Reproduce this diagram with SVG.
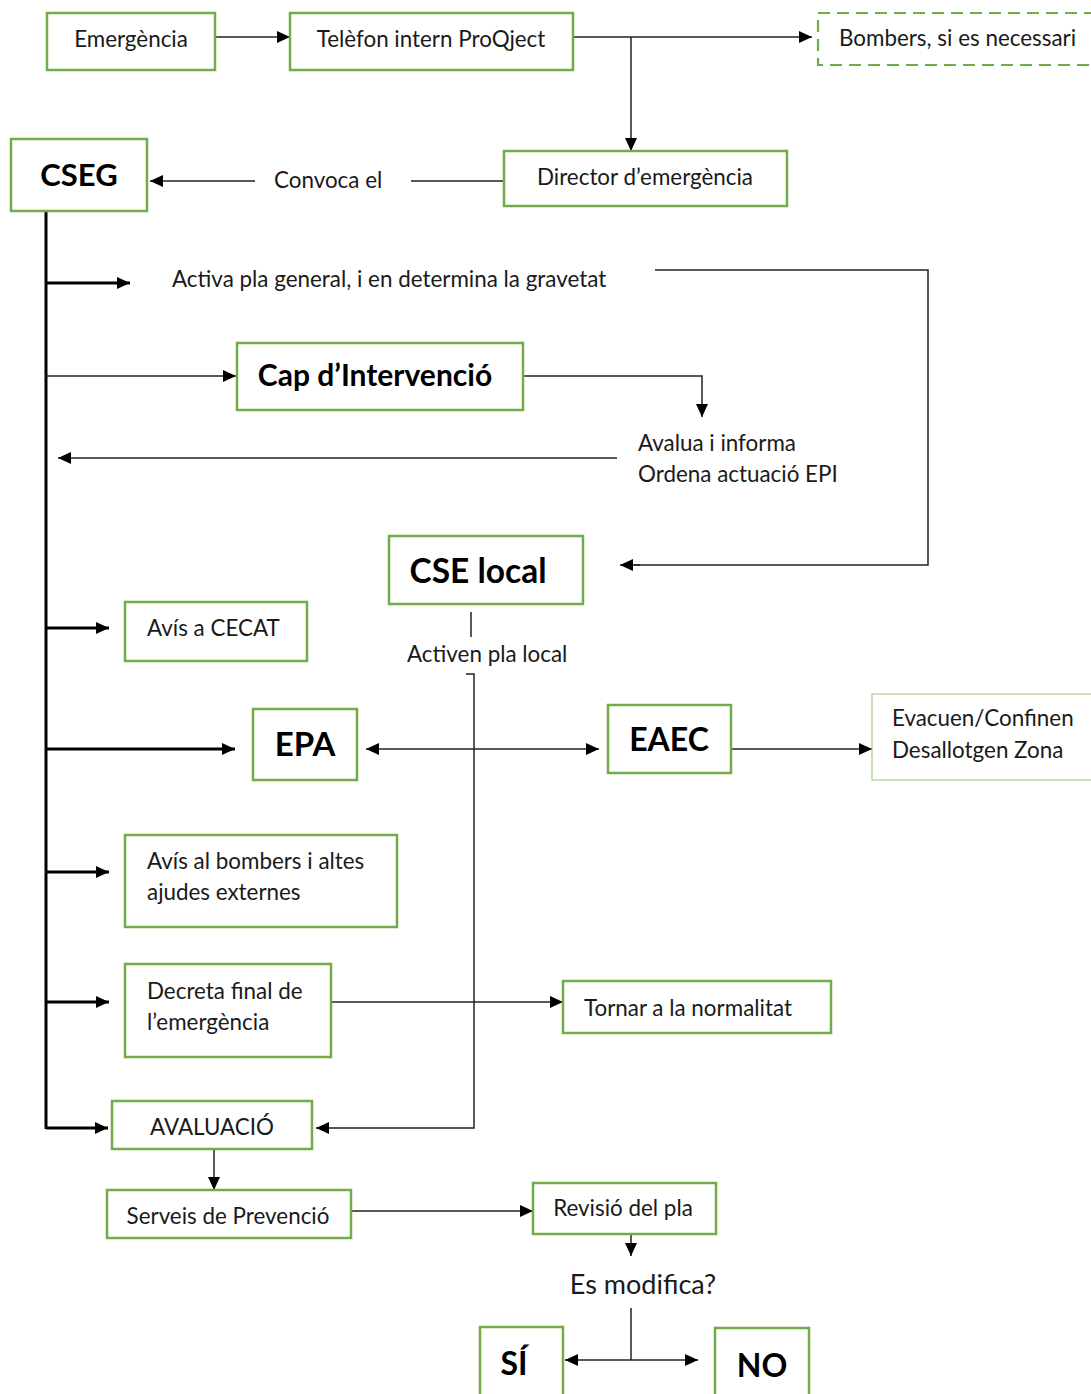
<svg xmlns="http://www.w3.org/2000/svg" width="1091" height="1394" viewBox="0 0 1091 1394">
  <style>
    .box { fill: #ffffff; stroke: #70ad47; stroke-width: 2.5; }
    .thin { fill: #ffffff; stroke: #a9d18e; stroke-width: 1.2; }
    .dash { fill: #ffffff; stroke: #70ad47; stroke-width: 2.2; stroke-dasharray: 12 7; }
    .t { font-family: Lato, "Liberation Sans", sans-serif; font-size: 22.4px; fill: #1a1a1a; }
    .b { font-family: Lato, "Liberation Sans", sans-serif; font-weight: bold; fill: #000000; }
    .c { fill: none; stroke: #222222; stroke-width: 1.5; }
    .k { fill: none; stroke: #000000; stroke-width: 3; }
    .a { marker-end: url(#ah); }
    .a2 { marker-start: url(#ah); marker-end: url(#ah); }
  </style>
  <defs>
    <marker id="ah" markerUnits="userSpaceOnUse" markerWidth="14" markerHeight="14" viewBox="0 0 14 14" refX="13" refY="7" orient="auto-start-reverse">
      <path d="M0,1 L13,7 L0,13 z" fill="#000000"/>
    </marker>
  </defs>
  <rect width="1091" height="1394" fill="#ffffff"/>

  <!-- connectors -->
  <g id="connectors">
    <line class="c a" x1="215" y1="37" x2="290" y2="37"/>
    <line class="c a" x1="573" y1="37" x2="812" y2="37"/>
    <line class="c a" x1="631" y1="37" x2="631" y2="151"/>
    <line class="c" x1="504" y1="181" x2="411" y2="181"/>
    <line class="c a" x1="255" y1="181" x2="150" y2="181"/>
    <!-- CSEG spine -->
    <line class="k" x1="46" y1="211" x2="46" y2="1129"/>
    <line class="k a" x1="46" y1="283" x2="130" y2="283"/>
    <polyline class="c" points="655,270 928,270 928,565 634,565"/>
    <line class="c a" x1="640" y1="565" x2="620" y2="565"/>
    <line class="c a" x1="46" y1="376" x2="236" y2="376"/>
    <polyline class="c a" points="523,376 702,376 702,417"/>
    <line class="c a" x1="617" y1="458" x2="58" y2="458"/>
    <line class="k a" x1="46" y1="628" x2="109" y2="628"/>
    <line class="k a" x1="46" y1="749" x2="235" y2="749"/>
    <line class="c a2" x1="366" y1="749" x2="599" y2="749"/>
    <line class="c a" x1="731" y1="749" x2="872" y2="749"/>
    <line class="k a" x1="46" y1="872" x2="109" y2="872"/>
    <line class="k a" x1="46" y1="1002" x2="109" y2="1002"/>
    <line class="c a" x1="331" y1="1002" x2="563" y2="1002"/>
    <line class="k a" x1="46" y1="1128" x2="108" y2="1128"/>
    <line class="c" x1="471" y1="612" x2="471" y2="637"/>
    <polyline class="c a" points="466,674 474,674 474,1128 316,1128"/>
    <line class="c a" x1="214" y1="1149" x2="214" y2="1190"/>
    <line class="c a" x1="351" y1="1211" x2="533" y2="1211"/>
    <line class="c a" x1="631" y1="1234" x2="631" y2="1256"/>
    <line class="c" x1="631" y1="1308" x2="631" y2="1360"/>
    <line class="c a2" x1="565" y1="1360" x2="698" y2="1360"/>
  </g>

  <!-- free labels on the connectors -->
  <g id="labels">
    <text class="t" x="274" y="188">Convoca el</text>
    <text class="t" x="172" y="287">Activa pla general, i en determina la gravetat</text>
    <text class="t" x="638" y="451">Avalua i informa</text>
    <text class="t" x="638" y="482">Ordena actuació EPI</text>
    <text class="t" x="407" y="662">Activen pla local</text>
    <text class="t" x="643" y="1294" text-anchor="middle" style="font-size:27px">Es modifica?</text>
  </g>

  <g id="emergencia">
    <rect class="box" x="47" y="13" width="168" height="57"/>
    <text class="t" x="131" y="47" text-anchor="middle">Emergència</text>
  </g>
  <g id="telefon">
    <rect class="box" x="290" y="13" width="283" height="57"/>
    <text class="t" x="431" y="47" text-anchor="middle">Telèfon intern ProQject</text>
  </g>
  <g id="bombers">
    <rect class="dash" x="818" y="13" width="290" height="52"/>
    <text class="t" x="839" y="46">Bombers, si es necessari</text>
  </g>
  <g id="director">
    <rect class="box" x="504" y="151" width="283" height="55"/>
    <text class="t" x="645" y="185" text-anchor="middle">Director d’emergència</text>
  </g>
  <g id="cseg">
    <rect class="box" x="11" y="139" width="136" height="72"/>
    <text class="b" x="79" y="186" text-anchor="middle" font-size="31">CSEG</text>
  </g>
  <g id="cap">
    <rect class="box" x="237" y="343" width="286" height="67"/>
    <text class="b" x="375" y="386" text-anchor="middle" font-size="30">Cap d’Intervenció</text>
  </g>
  <g id="cse-local">
    <rect class="box" x="389" y="536" width="194" height="68"/>
    <text class="b" x="478" y="583" text-anchor="middle" font-size="33.5">CSE local</text>
  </g>
  <g id="cecat">
    <rect class="box" x="125" y="602" width="182" height="59"/>
    <text class="t" x="147" y="636">Avís a CECAT</text>
  </g>
  <g id="epa">
    <rect class="box" x="253" y="709" width="104" height="71"/>
    <text class="b" x="305" y="756" text-anchor="middle" font-size="33">EPA</text>
  </g>
  <g id="eaec">
    <rect class="box" x="608" y="705" width="123" height="68"/>
    <text class="b" x="669" y="751" text-anchor="middle" font-size="32">EAEC</text>
  </g>
  <g id="evacuen">
    <rect class="thin" x="872" y="694" width="230" height="86"/>
    <text class="t" x="892" y="726">Evacuen/Confinen</text>
    <text class="t" x="892" y="758">Desallotgen Zona</text>
  </g>
  <g id="avis-bombers">
    <rect class="box" x="125" y="835" width="272" height="92"/>
    <text class="t" x="147" y="869">Avís al bombers i altes</text>
    <text class="t" x="147" y="900">ajudes externes</text>
  </g>
  <g id="decreta">
    <rect class="box" x="125" y="964" width="206" height="93"/>
    <text class="t" x="147" y="999">Decreta final de</text>
    <text class="t" x="147" y="1030">l’emergència</text>
  </g>
  <g id="tornar">
    <rect class="box" x="563" y="981" width="268" height="52"/>
    <text class="t" x="584" y="1016">Tornar a la normalitat</text>
  </g>
  <g id="avaluacio">
    <rect class="box" x="112" y="1101" width="200" height="48"/>
    <text class="t" x="212" y="1135" text-anchor="middle">AVALUACIÓ</text>
  </g>
  <g id="serveis">
    <rect class="box" x="107" y="1190" width="244" height="48"/>
    <text class="t" x="228" y="1224" text-anchor="middle">Serveis de Prevenció</text>
  </g>
  <g id="revisio">
    <rect class="box" x="533" y="1183" width="183" height="51"/>
    <text class="t" x="623" y="1216" text-anchor="middle">Revisió del pla</text>
  </g>
  <g id="si">
    <rect class="box" x="480" y="1327" width="83" height="80"/>
    <text class="b" x="514" y="1375" text-anchor="middle" font-size="32">SÍ</text>
  </g>
  <g id="no">
    <rect class="box" x="715" y="1328" width="94" height="80"/>
    <text class="b" x="762" y="1377" text-anchor="middle" font-size="32">NO</text>
  </g>
</svg>
